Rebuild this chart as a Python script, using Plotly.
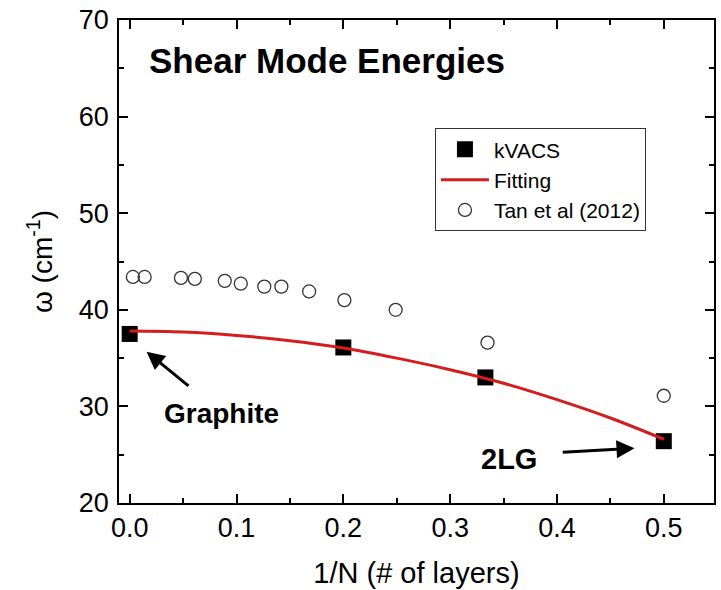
import plotly.graph_objects as go

# kVACS data
kvacs_x = [0.0, 0.2, 0.333, 0.5]
kvacs_y = [37.5, 36.1, 33.0, 26.4]

# Fitting curve
fit_x = [0.0, 0.05, 0.1, 0.15, 0.2, 0.25, 0.3, 0.35, 0.4, 0.45, 0.5]
fit_y = [37.8, 37.7, 37.35, 36.8, 36.05, 35.0, 33.8, 32.4, 30.7, 28.8, 26.6]

# Tan et al (2012)
tan_x = [0.003, 0.014, 0.048, 0.061, 0.089, 0.104, 0.126, 0.142, 0.168, 0.201, 0.249, 0.335, 0.5]
tan_y = [43.4, 43.4, 43.3, 43.2, 43.0, 42.7, 42.4, 42.4, 41.9, 41.0, 40.0, 36.6, 31.1]

x_ticks = [0.0, 0.1, 0.2, 0.3, 0.4, 0.5]
y_ticks = [20, 30, 40, 50, 60, 70]

FONT = "Arial, Liberation Sans, Helvetica, sans-serif"

fig = go.Figure()
fig.add_trace(go.Scatter(
    x=kvacs_x, y=kvacs_y, mode="markers", name="kVACS",
    marker=dict(symbol="square", size=16, color="black"),
))
fig.add_trace(go.Scatter(
    x=fit_x, y=fit_y, mode="lines", name="Fitting", line_shape="spline",
    line=dict(color="#d41e1e", width=3),
))
fig.add_trace(go.Scatter(
    x=tan_x, y=tan_y, mode="markers", name="Tan et al (2012)",
    marker=dict(symbol="circle-open", size=13, color="#333333", line=dict(width=1.3, color="#333333")),
))

axis_common = dict(
    showline=True, linecolor="black", linewidth=1.8, mirror="allticks",
    ticks="inside", ticklen=9, tickwidth=1.5, tickcolor="black",
    showgrid=False, zeroline=False, automargin=False,
    ticklabeloverflow="allow",
    tickfont=dict(family=FONT, size=27, color="black"),
)

fig.update_xaxes(
    range=[-0.01, 0.547], tickvals=x_ticks, ticktext=[f"{v:.1f}" for v in x_ticks],
    minor=dict(ticks="inside", ticklen=5, tickwidth=1.5, tickcolor="black", dtick=0.05, tick0=0, showgrid=False),
    title=dict(text="1/N (# of layers)", font=dict(family=FONT, size=29, color="black"), standoff=20),
    **axis_common,
)
fig.update_yaxes(
    range=[20, 70], tickvals=y_ticks, ticktext=[str(v) for v in y_ticks],
    minor=dict(ticks="inside", ticklen=5, tickwidth=1.5, tickcolor="black", dtick=5, tick0=0, showgrid=False),
    title=dict(text="ω (cm<sup>-1</sup>)", font=dict(family=FONT, size=28, color="black"), standoff=18),
    ticklabelstandoff=3,
    **axis_common,
)

fig.add_annotation(
    x=0.047, y=0.917, xref="paper", yref="paper", xanchor="left", yanchor="middle",
    text="<b>Shear Mode Energies</b>", showarrow=False,
    font=dict(family=FONT, size=35, color="black"),
)
fig.add_annotation(
    x=0.086, y=29.25, xref="x", yref="y", text="<b>Graphite</b>", showarrow=False,
    font=dict(family=FONT, size=28, color="black"),
)
fig.add_annotation(
    x=0.0158, y=35.66, ax=0.0564, ay=32.0, xref="x", yref="y", axref="x", ayref="y",
    text="", showarrow=True, arrowhead=2, arrowsize=1.2, arrowwidth=3, arrowcolor="black",
)
fig.add_annotation(
    x=0.355, y=24.6, xref="x", yref="y", text="<b>2LG</b>", showarrow=False,
    font=dict(family=FONT, size=29, color="black"),
)
fig.add_annotation(
    x=0.4726, y=25.66, ax=0.404, ay=25.25, xref="x", yref="y", axref="x", ayref="y",
    text="", showarrow=True, arrowhead=2, arrowsize=1.2, arrowwidth=3, arrowcolor="black",
)

fig.update_layout(
    width=721, height=590,
    margin=dict(l=119, r=7, t=20, b=87, autoexpand=False),
    paper_bgcolor="white", plot_bgcolor="white",
    font=dict(family=FONT, color="black"),
    showlegend=True,
    legend=dict(
        x=0.531, y=0.776, xanchor="left", yanchor="top",
        bgcolor="white", bordercolor="#333333", borderwidth=1,
        font=dict(family=FONT, size=21, color="black"),
        itemwidth=48, tracegroupgap=0,
    ),
)

# remove the default page margin so the figure sits at the window's top-left corner
fig.write_html(
    "out.html",
    config={"displayModeBar": False},
    post_script="document.body.style.margin='0';",
)
